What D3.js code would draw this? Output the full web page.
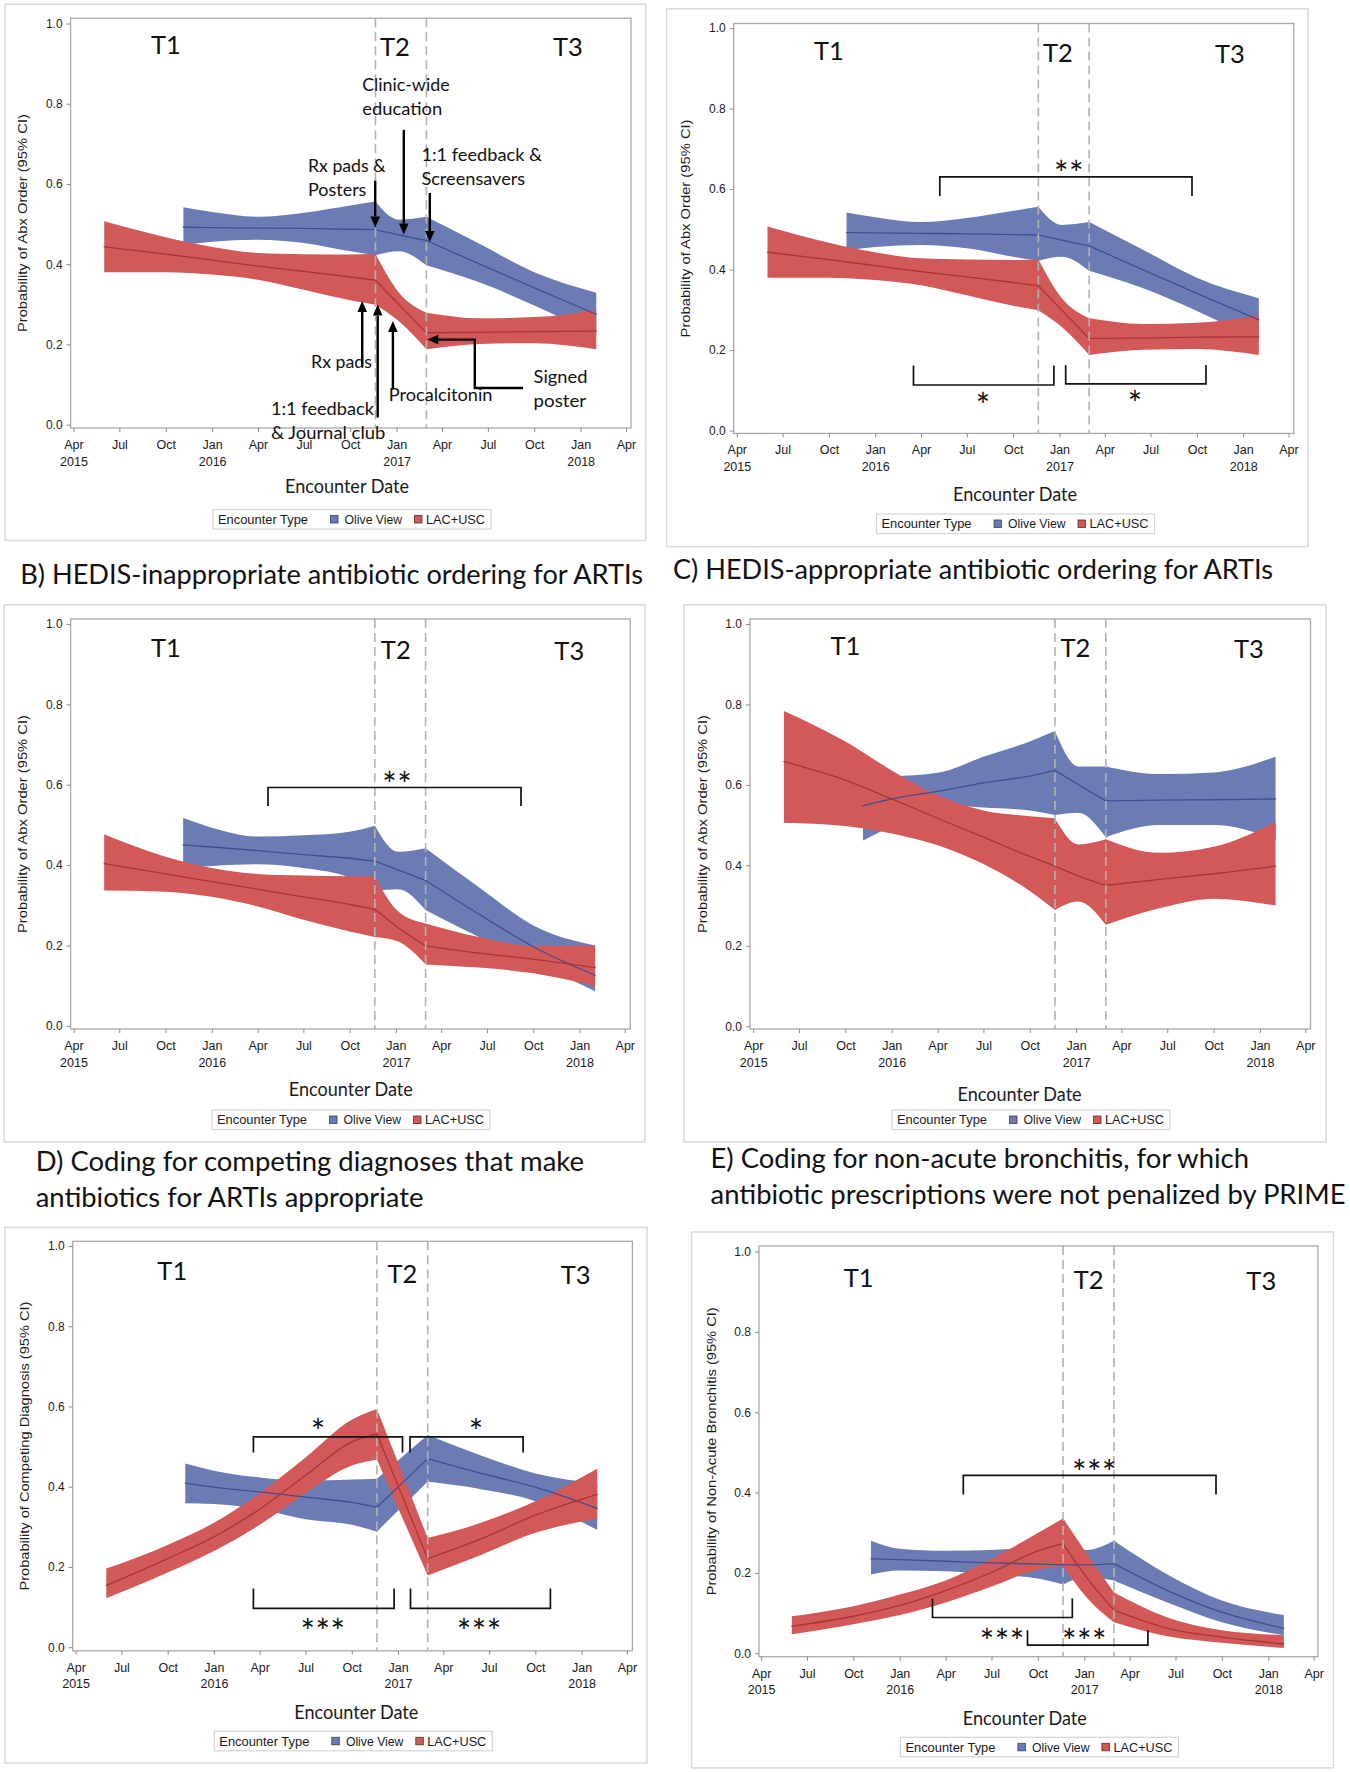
<!DOCTYPE html>
<html><head><meta charset="utf-8">
<script src="https://cdn.jsdelivr.net/npm/d3@7"></script>
<style>body{margin:0;background:#fff} svg{display:block}</style>
</head><body>
<svg id="chart" width="1350" height="1772"></svg>
<script>
// ---------------- DATA ----------------
const lacDates   = ["2015-06-01","2015-10-01","2016-01-01","2016-04-01","2016-07-01","2016-10-01","2016-11-20","2017-01-05","2017-03-01","2017-06-15","2017-10-01","2018-02-01"];
const oliveDates = ["2015-11-05","2016-01-01","2016-04-01","2016-07-01","2016-10-01","2016-11-20","2017-01-05","2017-03-01","2017-06-15","2017-10-01","2018-02-01"];
const periodBreaks = ["2016-11-20","2017-03-01"];
const periodLabels = ["T1","T2","T3"];
const seriesNames = ["Olive View","LAC+USC"];
const xTickDates  = ["2015-04-01","2015-07-01","2015-10-01","2016-01-01","2016-04-01","2016-07-01","2016-10-01","2017-01-01","2017-04-01","2017-07-01","2017-10-01","2018-01-01","2018-04-01"];
const xTickMonths = ["Apr","Jul","Oct","Jan","Apr","Jul","Oct","Jan","Apr","Jul","Oct","Jan","Apr"];
const xTickYears  = ["2015","","","2016","","","","2017","","","","2018",""];
const yTicks = [0, 0.2, 0.4, 0.6, 0.8, 1.0];

// A) overall antibiotic ordering (used in both top panels)
const abxLacMean   = [0.443,0.425,0.410,0.395,0.382,0.368,0.360,0.300,0.229,0.230,0.232,0.233];
const abxLacLo     = [0.380,0.380,0.374,0.361,0.336,0.310,0.299,0.258,0.188,0.201,0.203,0.188];
const abxLacHi     = [0.507,0.467,0.443,0.428,0.425,0.424,0.426,0.330,0.279,0.265,0.268,0.286];
const abxOliveMean = [0.492,0.491,0.490,0.489,0.487,0.486,0.473,0.459,0.400,0.341,0.275];
const abxOliveLo   = [0.447,0.456,0.461,0.453,0.432,0.422,0.432,0.397,0.354,0.297,0.223];
const abxOliveHi   = [0.542,0.530,0.518,0.528,0.546,0.556,0.511,0.518,0.450,0.380,0.329];
// B) HEDIS-inappropriate
const inapLacMean   = [0.404,0.378,0.359,0.340,0.321,0.302,0.290,0.245,0.199,0.181,0.166,0.145];
const inapLacLo     = [0.337,0.334,0.321,0.297,0.264,0.235,0.221,0.210,0.153,0.145,0.131,0.099];
const inapLacHi     = [0.477,0.421,0.393,0.378,0.374,0.372,0.372,0.285,0.255,0.221,0.199,0.200];
const inapOliveMean = [0.450,0.445,0.436,0.426,0.417,0.410,0.388,0.362,0.278,0.197,0.126];
const inapOliveLo   = [0.393,0.398,0.402,0.393,0.369,0.337,0.340,0.288,0.221,0.160,0.086];
const inapOliveHi   = [0.517,0.493,0.471,0.474,0.483,0.498,0.433,0.442,0.345,0.250,0.200];
// C) HEDIS-appropriate
const appLacMean   = [0.658,0.612,0.565,0.517,0.470,0.422,0.398,0.374,0.350,0.365,0.379,0.398];
const appLacLo     = [0.506,0.498,0.479,0.450,0.403,0.336,0.289,0.310,0.252,0.293,0.317,0.300];
const appLacHi     = [0.784,0.708,0.636,0.574,0.536,0.522,0.517,0.452,0.465,0.431,0.446,0.508];
const appOliveMean = [0.548,0.565,0.584,0.605,0.622,0.636,0.601,0.560,0.562,0.563,0.565];
const appOliveLo   = [0.462,0.498,0.550,0.544,0.536,0.525,0.531,0.470,0.500,0.500,0.465];
const appOliveHi   = [0.622,0.622,0.630,0.670,0.708,0.734,0.646,0.646,0.627,0.631,0.670];
// D) competing diagnoses
const compLacMean   = [0.154,0.221,0.275,0.344,0.428,0.512,0.532,0.390,0.221,0.270,0.329,0.381];
const compLacLo     = [0.122,0.186,0.240,0.305,0.384,0.453,0.468,0.336,0.179,0.230,0.285,0.320];
const compLacHi     = [0.196,0.255,0.310,0.384,0.473,0.567,0.594,0.448,0.272,0.310,0.364,0.445];
const compOliveMean = [0.409,0.399,0.387,0.374,0.361,0.349,0.404,0.470,0.433,0.399,0.346];
const compOliveLo   = [0.359,0.357,0.344,0.319,0.305,0.288,0.345,0.413,0.394,0.364,0.292];
const compOliveHi   = [0.458,0.440,0.423,0.415,0.418,0.420,0.470,0.529,0.478,0.433,0.409];
// E) non-acute bronchitis
const bronLacMean   = [0.067,0.092,0.119,0.156,0.201,0.255,0.273,0.190,0.107,0.062,0.040,0.023];
const bronLacLo     = [0.047,0.072,0.095,0.126,0.166,0.208,0.217,0.140,0.077,0.042,0.026,0.013];
const bronLacHi     = [0.092,0.117,0.146,0.181,0.235,0.299,0.336,0.250,0.151,0.089,0.057,0.045];
const bronOliveMean = [0.235,0.233,0.229,0.225,0.222,0.220,0.220,0.223,0.156,0.102,0.062];
const bronOliveLo   = [0.196,0.206,0.204,0.196,0.186,0.171,0.190,0.181,0.126,0.077,0.045];
const bronOliveHi   = [0.280,0.260,0.255,0.257,0.265,0.270,0.257,0.280,0.196,0.131,0.095];

// ---------------- STYLE ----------------
const CAL = "Lato, 'Open Sans', sans-serif";
const ARI = "'Liberation Sans', Arial, sans-serif";
const C = { oliveFill:"#6b7cb5", oliveLine:"#3e4d90", lacFill:"#d35858", lacLine:"#a83337",
            frame:"#a9a9a9", outer:"#d9d9d9", dash:"#b3b3b3", tick:"#8a8a8a", text:"#1a1a1a" };

const parse = d3.timeParse("%Y-%m-%d");
const breakTimes = periodBreaks.map(s=>parse(s).getTime());
const svg = d3.select("#chart");
svg.append("rect").attr("width",1350).attr("height",1772).attr("fill","#fff");

function zip(dates, mean, lo, hi){ return dates.map((d,i)=>({date:parse(d), m:mean[i], lo:lo[i], hi:hi[i]})); }
// split a series into the three periods (break points are shared by neighbouring periods)
function periods(data){
  const b0 = breakTimes[0], b1 = breakTimes[1];
  return [
    data.filter(d=>d.date.getTime()<=b0),
    data.filter(d=>d.date.getTime()>=b0 && d.date.getTime()<=b1),
    data.filter(d=>d.date.getTime()>=b1)
  ].filter(s=>s.length>1);
}

const panels = [
 { outer:[5,4.2,645.8,540.4], frame:[70.6,18.2,631,428], xr:[73.5,626], yr:[424.6,23.5],
   olive:[abxOliveMean,abxOliveLo,abxOliveHi], lac:[abxLacMean,abxLacLo,abxLacHi],
   tl:[[166,54.4],[395,56],[568,56]], xlab:[347,493], leg:[213,509.5],
   ylab:"Probability of Abx Order (95% CI)", ylabLen:218, brackets:[] },
 { outer:[666.6,8.8,1308,546.6], frame:[733.7,23.5,1293.8,433.4], xr:[736.8,1288.5], yr:[430.6,28.1],
   olive:[abxOliveMean,abxOliveLo,abxOliveHi], lac:[abxLacMean,abxLacLo,abxLacHi],
   tl:[[828.9,59.8],[1058,61.5],[1230,62.6]], xlab:[1015,500.9], leg:[876.5,514],
   ylab:"Probability of Abx Order (95% CI)", ylabLen:218,
   brackets:[ {x1:939.8,x2:1192,y:176.8,leg:196,n:2,tx:1068.8,ty:167},
              {x1:913.5,x2:1053.9,y:385,leg:365.6,n:1,tx:983,ty:399},
              {x1:1065.7,x2:1206,y:383.8,leg:364.9,n:1,tx:1135,ty:397} ] },
 { outer:[4.2,604.8,645,1142], frame:[70.6,619,630.3,1029], xr:[73.5,624.8], yr:[1025.9,623.9],
   olive:[inapOliveMean,inapOliveLo,inapOliveHi], lac:[inapLacMean,inapLacLo,inapLacHi],
   tl:[[166,657.3],[395.8,659.2],[569.3,660.3]], xlab:[350.8,1096], leg:[212,1110],
   ylab:"Probability of Abx Order (95% CI)", ylabLen:218,
   brackets:[ {x1:268,x2:521,y:787.5,leg:806,n:2,tx:397,ty:777.6} ] },
 { outer:[684,604.8,1326,1142], frame:[750,619,1310.5,1029], xr:[753.2,1305.3], yr:[1026.2,624],
   olive:[appOliveMean,appOliveLo,appOliveHi], lac:[appLacMean,appLacLo,appLacHi],
   tl:[[845.5,654.6],[1075.4,657.3],[1249,658.4]], xlab:[1019.6,1100.6], leg:[892,1110],
   ylab:"Probability of Abx Order (95% CI)", ylabLen:218, brackets:[] },
 { outer:[5,1227.4,647,1763], frame:[72.7,1241.3,632.4,1650.8], xr:[75.6,626.9], yr:[1647.2,1246],
   olive:[compOliveMean,compOliveLo,compOliveHi], lac:[compLacMean,compLacLo,compLacHi],
   tl:[[172.3,1280.2],[402.5,1283],[575.6,1283.7]], xlab:[356.3,1718.7], leg:[214.3,1731.3],
   ylab:"Probability of Competing Diagnosis (95% CI)", ylabLen:289,
   brackets:[ {x1:253.4,x2:402.5,y:1436.9,leg:1452.4,n:1,tx:318,ty:1424.6},
              {x1:410,x2:523.1,y:1436.9,leg:1452.4,n:1,tx:476,ty:1424.6},
              {x1:253.4,x2:394.1,y:1608.3,leg:1588.5,n:3,tx:322.7,ty:1624.6},
              {x1:410.5,x2:550.4,y:1608.3,leg:1588.5,n:3,tx:479,ty:1624.6} ] },
 { outer:[691.6,1232,1333.4,1767.9], frame:[759,1246,1318,1656.7], xr:[761.1,1313.6], yr:[1653.2,1251.6],
   olive:[bronOliveMean,bronOliveLo,bronOliveHi], lac:[bronLacMean,bronLacLo,bronLacHi],
   tl:[[858.7,1286.9],[1088.6,1288.9],[1261.3,1290.1]], xlab:[1024.8,1725.4], leg:[900.4,1737.3],
   ylab:"Probability of Non-Acute Bronchitis (95% CI)", ylabLen:288,
   brackets:[ {x1:963.3,x2:1216,y:1475.4,leg:1494.4,n:3,tx:1094.3,ty:1465.5},
              {x1:932.5,x2:1072.3,y:1617.5,leg:1598.4,n:3,tx:1002,ty:1634.9},
              {x1:1027.5,x2:1147.9,y:1645.2,leg:1630.2,n:3,tx:1084.2,ty:1634.9} ] }
];

function drawPanel(p){
  const g = svg.append("g");
  const [fx0,fy0,fx1,fy1] = p.frame;
  g.append("rect").attr("x",p.outer[0]).attr("y",p.outer[1])
    .attr("width",p.outer[2]-p.outer[0]).attr("height",p.outer[3]-p.outer[1])
    .attr("fill","none").attr("stroke",C.outer).attr("stroke-width",1.5);

  const x = d3.scaleTime().domain([parse("2015-04-01"), parse("2018-04-01")]).range(p.xr);
  const y = d3.scaleLinear().domain([0,1]).range(p.yr);

  const olive = zip(oliveDates, ...p.olive);
  const lac = zip(lacDates, ...p.lac);
  const area = d3.area().x(d=>x(d.date)).y0(d=>y(d.lo)).y1(d=>y(d.hi)).curve(d3.curveMonotoneX);
  const line = d3.line().x(d=>x(d.date)).y(d=>y(d.m)).curve(d3.curveMonotoneX);
  const areaPath = data => periods(data).map(s=>area(s)).join("");
  const linePath = data => periods(data).map(s=>line(s)).join("");

  g.append("path").attr("d",areaPath(olive)).attr("fill",C.oliveFill);
  g.append("path").attr("d",areaPath(lac)).attr("fill",C.lacFill);
  g.append("path").attr("d",linePath(olive)).attr("fill","none").attr("stroke",C.oliveLine)
    .attr("stroke-width",1.3).attr("stroke-linecap","round");
  g.append("path").attr("d",linePath(lac)).attr("fill","none").attr("stroke",C.lacLine)
    .attr("stroke-width",1.3).attr("stroke-linecap","round");

  periodBreaks.forEach(b=>{
    g.append("line").attr("x1",x(parse(b))).attr("x2",x(parse(b))).attr("y1",fy0).attr("y2",fy1)
      .attr("stroke",C.dash).attr("stroke-width",1.6).attr("stroke-dasharray","9,5");
  });

  g.append("rect").attr("x",fx0).attr("y",fy0).attr("width",fx1-fx0).attr("height",fy1-fy0)
    .attr("fill","none").attr("stroke",C.frame).attr("stroke-width",1.3);

  // axes
  const xa = g.append("g").attr("transform",`translate(0,${fy1})`)
    .call(d3.axisBottom(x).tickValues(xTickDates.map(parse)).tickSize(4).tickFormat((d,i)=>xTickMonths[i]));
  xa.select(".domain").remove();
  xa.selectAll(".tick line").attr("stroke",C.tick);
  xa.selectAll(".tick text").each(function(d,i){
    const t = d3.select(this).text(null).attr("y",null).attr("dy",null)
      .attr("font-family",ARI).attr("font-size",12.5).attr("fill",C.text);
    t.append("tspan").attr("x",0).attr("y",21).text(xTickMonths[i]);
    if (xTickYears[i]) t.append("tspan").attr("x",0).attr("y",37.5).text(xTickYears[i]);
  });
  const ya = g.append("g").attr("transform",`translate(${fx0},0)`)
    .call(d3.axisLeft(y).tickValues(yTicks).tickSize(4).tickPadding(4).tickFormat(d3.format(".1f")));
  ya.select(".domain").remove();
  ya.selectAll(".tick line").attr("stroke",C.tick);
  ya.selectAll(".tick text").attr("font-family",ARI).attr("font-size",12).attr("fill",C.text);

  // y label
  const ycx = fx0 - 48, ycy = (fy0+fy1)/2;
  g.append("text").attr("transform",`translate(${ycx+4.5},${ycy}) rotate(-90)`)
    .attr("text-anchor","middle").attr("font-family",ARI).attr("font-size",13).attr("fill",C.text)
    .attr("textLength",p.ylabLen).attr("lengthAdjust","spacingAndGlyphs").text(p.ylab);

  // x label
  g.append("text").attr("x",p.xlab[0]).attr("y",p.xlab[1]).attr("text-anchor","middle")
    .attr("font-family",CAL).attr("font-size",19.5).attr("fill",C.text)
    .attr("textLength",124).attr("lengthAdjust","spacingAndGlyphs").text("Encounter Date");

  // period labels
  p.tl.forEach((t,i)=>{
    g.append("text").attr("x",t[0]).attr("y",t[1]).attr("text-anchor","middle")
      .attr("font-family",CAL).attr("font-size",25.5).attr("fill","#111").text(periodLabels[i]);
  });

  // legend
  const [lx,ly] = p.leg;
  const lg = g.append("g").attr("transform",`translate(${lx},${ly})`);
  lg.append("rect").attr("width",278).attr("height",19.5).attr("fill","#fff").attr("stroke","#d4d4d4").attr("stroke-width",1.2);
  const lt = (tx,s,len)=>lg.append("text").attr("x",tx).attr("y",14.3).attr("font-family",ARI).attr("font-size",12.8)
      .attr("fill",C.text).attr("textLength",len).attr("lengthAdjust","spacingAndGlyphs").text(s);
  lt(5,"Encounter Type",90);
  lg.append("rect").attr("x",117.5).attr("y",6).attr("width",7.5).attr("height",7.5).attr("fill",C.oliveFill).attr("stroke","#3a3a5a").attr("stroke-width",0.8);
  lt(131.6,seriesNames[0],57.5);
  lg.append("rect").attr("x",201.5).attr("y",6).attr("width",7.5).attr("height",7.5).attr("fill",C.lacFill).attr("stroke","#5a2a2a").attr("stroke-width",0.8);
  lt(213,seriesNames[1],59);

  // significance brackets
  p.brackets.forEach(b=>{
    g.append("path").attr("d",`M${b.x1},${b.leg}L${b.x1},${b.y}L${b.x2},${b.y}L${b.x2},${b.leg}`)
      .attr("fill","none").attr("stroke","#111").attr("stroke-width",1.7);
    for (let k=0;k<b.n;k++){
      g.append("text").attr("x",b.tx+(k-(b.n-1)/2)*15).attr("y",b.ty+19).attr("text-anchor","middle")
        .attr("font-family",CAL).attr("font-size",34).attr("fill","#111").text("*");
    }
  });
}
panels.forEach(drawPanel);

// ---------------- annotations (panel A) ----------------
const notes = [
  ["Clinic-wide",362.2,90.5,87.4],["education",362.2,115.1,80],
  ["Rx pads &",308,171.9,77.7],["Posters",308,195.8,58.4],
  ["1:1 feedback &",421.4,160.7,120.6],["Screensavers",421.4,185.3,103.8],
  ["Rx pads",311,368.4,61],["1:1 feedback",271,415.1,103],["& Journal club",271,439.3,114.3],
  ["Procalcitonin",388.7,401,103.8],["Signed",533.6,382.5,53.8],["poster",533.6,407,52.5]
];
notes.forEach(n=>{
  svg.append("text").attr("x",n[1]).attr("y",n[2]).attr("font-family",CAL).attr("font-size",18)
    .attr("fill","#111").attr("textLength",n[3]).attr("lengthAdjust","spacingAndGlyphs").text(n[0]);
});
const arrows = [
  [[403.8,129.8],[403.8,234.4]],
  [[375.2,180.7],[375.2,227.4]],
  [[429.8,193],[429.8,242.1]],
  [[362.2,366.7],[362.2,301]],
  [[377.7,417.5],[377.7,304.6]],
  [[392.9,389.5],[392.9,321]],
  [[523.1,388],[474.8,388],[474.8,339.6],[427.3,339.6]]
];
arrows.forEach(pts=>{
  const n = pts.length, tip = pts[n-1], prev = pts[n-2];
  const dx = tip[0]-prev[0], dy = tip[1]-prev[1], L = Math.hypot(dx,dy), ux = dx/L, uy = dy/L;
  const hl = 11, hw = 4.8;
  const base = [tip[0]-ux*hl, tip[1]-uy*hl];
  const shaft = pts.slice(0,n-1).concat([base]);
  svg.append("path").attr("d",d3.line()(shaft)).attr("fill","none").attr("stroke","#000").attr("stroke-width",2.4);
  svg.append("path").attr("d",`M${tip[0]},${tip[1]}L${base[0]-uy*hw},${base[1]+ux*hw}L${base[0]+uy*hw},${base[1]-ux*hw}Z`).attr("fill","#000");
});

// ---------------- panel titles ----------------
const titles = [
  ["B) HEDIS-inappropriate antibiotic ordering for ARTIs",20.2,583.7,622.7],
  ["C) HEDIS-appropriate antibiotic ordering for ARTIs",673,578.7,600],
  ["D) Coding for competing diagnoses that make",35.7,1170.6,548.3],
  ["antibiotics for ARTIs appropriate",35.7,1206.7,387.8],
  ["E) Coding for non-acute bronchitis, for which",710.5,1167.9,538.5],
  ["antibiotic prescriptions were not penalized by PRIME",710.5,1203.6,635]
];
titles.forEach(t=>{
  svg.append("text").attr("x",t[1]).attr("y",t[2]).attr("font-family",CAL).attr("font-size",27)
    .attr("fill","#111").attr("textLength",t[3]).attr("lengthAdjust","spacingAndGlyphs").text(t[0]);
});
</script>
</body></html>
